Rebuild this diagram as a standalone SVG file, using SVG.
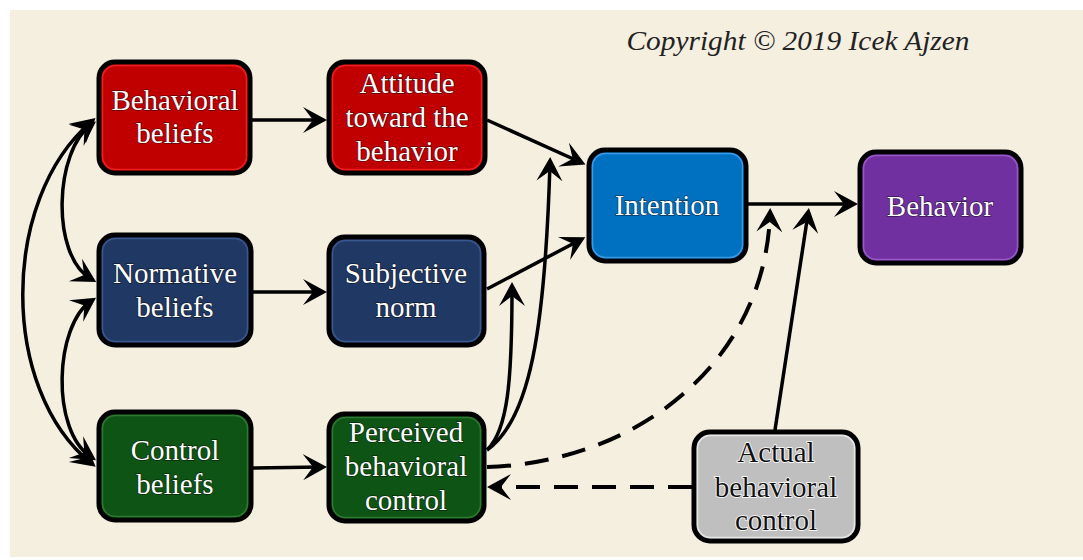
<svg xmlns="http://www.w3.org/2000/svg" width="1083" height="560" viewBox="0 0 1083 560">
<defs>
<style>
.box{stroke:#000;stroke-width:5}
.inner{fill:none;stroke-width:1.5}
.t{font-family:"Liberation Serif","Times New Roman",serif;font-size:29px;fill:#fff;stroke:#000;stroke-opacity:.55;stroke-width:1.4;paint-order:stroke;text-anchor:middle}
.tk{font-family:"Liberation Serif","Times New Roman",serif;font-size:29px;fill:#111;stroke:#fff;stroke-width:1.6;paint-order:stroke;text-anchor:middle}
.c{fill:none;stroke:#000;stroke-width:3.5}
.d{fill:none;stroke:#000;stroke-width:4;stroke-dasharray:24 14}
</style>
<marker id="ah" markerUnits="userSpaceOnUse" markerWidth="28" markerHeight="28" refX="18" refY="13" orient="auto-start-reverse" viewBox="0 0 28 28">
<path d="M24,13 L0,0 L10,13 L0,26 Z" fill="#000"/>
</marker>
</defs>
<rect x="0" y="0" width="1083" height="560" fill="#fff"/>
<rect x="10" y="10" width="1073" height="547" fill="#F5EFE0"/>
<text x="798" y="50" font-family="Liberation Serif, serif" font-style="italic" font-size="27" fill="#222" text-anchor="middle" textLength="343" lengthAdjust="spacingAndGlyphs">Copyright © 2019 Icek Ajzen</text>

<g id="connectors">
<path class="c" d="M252,120 L321,120" marker-end="url(#ah)"/>
<path class="c" d="M253,292 L321,292" marker-end="url(#ah)"/>
<path class="c" d="M253,468 L321,467" marker-end="url(#ah)"/>
<path class="c" d="M487,120 L580,162" marker-end="url(#ah)"/>
<path class="c" d="M487,289 L580,240" marker-end="url(#ah)"/>
<path class="c" d="M487,450 C530,420 545,330 550,163" marker-end="url(#ah)"/>
<path class="c" d="M487,450 C508,430 512,380 512,288" marker-end="url(#ah)"/>
<path class="c" d="M748,204 L852,204" marker-end="url(#ah)"/>
<path class="c" d="M775,430 L808,214" marker-end="url(#ah)"/>
<path class="d" d="M487,467 C640,462 765,360 770,214" marker-end="url(#ah)"/>
<path class="d" d="M692,487 L493,487" marker-end="url(#ah)"/>
<path class="c" d="M91,125 C55,150 50,255 91,279" marker-start="url(#ah)" marker-end="url(#ah)"/>
<path class="c" d="M91,301 C55,325 50,430 91,457" marker-start="url(#ah)" marker-end="url(#ah)"/>
<path class="c" d="M91,122 C0,200 0,390 91,463" marker-start="url(#ah)" marker-end="url(#ah)"/>
</g>

<g id="behavioral-beliefs">
<rect class="box" x="99" y="62" width="151" height="111" rx="16" fill="#C00000"/>
<rect class="inner" x="102.5" y="65.5" width="144" height="104" rx="13" stroke="#F02020"/>
<text class="t" x="175" y="110">Behavioral</text>
<text class="t" x="175" y="143">beliefs</text>
</g>
<g id="attitude">
<rect class="box" x="329" y="62" width="156" height="111" rx="16" fill="#C00000"/>
<rect class="inner" x="332.5" y="65.5" width="149" height="104" rx="13" stroke="#F02020"/>
<text class="t" x="407" y="93">Attitude</text>
<text class="t" x="407" y="127">toward the</text>
<text class="t" x="407" y="161">behavior</text>
</g>
<g id="intention">
<rect class="box" x="589" y="150" width="157" height="111" rx="16" fill="#0070C0"/>
<rect class="inner" x="592.5" y="153.5" width="150" height="104" rx="13" stroke="#3A9BE8"/>
<text class="t" x="667" y="215">Intention</text>
</g>
<g id="behavior">
<rect class="box" x="860" y="152" width="161" height="111" rx="16" fill="#7030A0"/>
<rect class="inner" x="863.5" y="155.5" width="154" height="104" rx="13" stroke="#9858C8"/>
<text class="t" x="940" y="216">Behavior</text>
</g>
<g id="normative-beliefs">
<rect class="box" x="99" y="235" width="152" height="110" rx="16" fill="#203864"/>
<rect class="inner" x="102.5" y="238.5" width="145" height="103" rx="13" stroke="#3A5890"/>
<text class="t" x="175" y="283">Normative</text>
<text class="t" x="175" y="317">beliefs</text>
</g>
<g id="subjective-norm">
<rect class="box" x="329" y="237" width="155" height="108" rx="16" fill="#203864"/>
<rect class="inner" x="332.5" y="240.5" width="148" height="101" rx="13" stroke="#3A5890"/>
<text class="t" x="406" y="283">Subjective</text>
<text class="t" x="406" y="317">norm</text>
</g>
<g id="control-beliefs">
<rect class="box" x="99" y="412" width="152" height="108" rx="16" fill="#0E5414"/>
<rect class="inner" x="102.5" y="415.5" width="145" height="101" rx="13" stroke="#2E7A30"/>
<text class="t" x="175" y="460">Control</text>
<text class="t" x="175" y="494">beliefs</text>
</g>
<g id="perceived-behavioral-control">
<rect class="box" x="329" y="414" width="155" height="107" rx="16" fill="#0E5414"/>
<rect class="inner" x="332.5" y="417.5" width="148" height="100" rx="13" stroke="#2E7A30"/>
<text class="t" x="406" y="442">Perceived</text>
<text class="t" x="406" y="476">behavioral</text>
<text class="t" x="406" y="510">control</text>
</g>
<g id="actual-behavioral-control">
<rect class="box" x="694" y="432" width="164" height="109" rx="16" fill="#BFBFBF"/>
<rect class="inner" x="697.5" y="435.5" width="157" height="102" rx="13" stroke="#E6E6E6"/>
<text class="tk" x="776" y="462">Actual</text>
<text class="tk" x="776" y="497">behavioral</text>
<text class="tk" x="776" y="530">control</text>
</g>
</svg>
